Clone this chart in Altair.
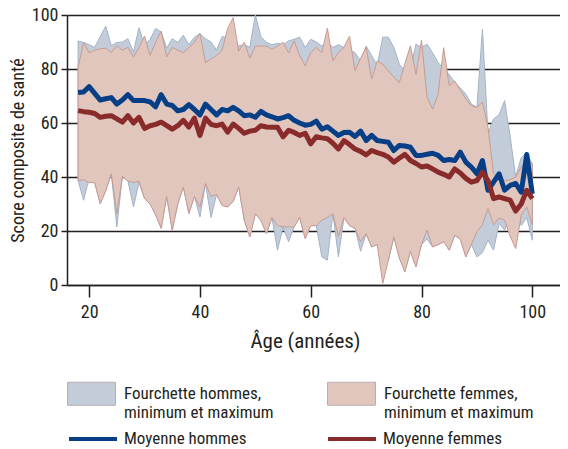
import altair as alt
import pandas as pd

FONT = "Roboto Condensed, Noto Sans Condensed, sans-serif"
DARK = "#231f20"

ages = list(range(18, 101))

men_mean = [71.3, 71.5, 73.5, 71.0, 68.5, 69.0, 69.4, 67.0, 68.5, 70.5,
            68.3, 68.3, 68.3, 67.8, 66.0, 70.5, 67.0, 66.5, 64.5, 65.0,
            66.8, 65.0, 63.0, 67.0, 65.0, 63.0, 65.0, 64.5, 65.8, 64.5,
            62.7, 63.0, 62.1, 64.3, 63.0, 62.3, 61.5, 62.0, 62.7, 61.0,
            60.0, 59.2, 59.5, 60.7, 57.7, 58.6, 57.0, 55.4, 56.5, 56.6,
            55.0, 57.0, 53.5, 55.4, 53.5, 53.2, 52.9, 49.8, 51.7, 51.5,
            51.0, 48.0, 48.0, 48.4, 48.8, 48.0, 46.1, 46.5, 46.1, 49.2,
            45.5, 43.7, 41.2, 46.1, 35.1, 38.1, 41.2, 35.1, 36.9, 37.6,
            34.4, 48.3, 33.8]

women_mean = [64.6, 64.2, 64.0, 63.5, 62.1, 62.5, 62.7, 61.5, 60.3, 62.7,
              60.0, 62.1, 58.0, 59.0, 59.5, 60.3, 59.0, 57.7, 59.0, 61.0,
              58.5, 61.8, 55.4, 61.8, 59.5, 59.0, 59.6, 56.6, 59.6, 58.0,
              56.2, 57.0, 57.3, 59.0, 58.5, 58.4, 58.4, 54.9, 57.3, 56.5,
              55.4, 56.2, 52.3, 54.9, 54.5, 54.2, 52.5, 50.4, 53.5, 52.0,
              50.4, 49.5, 48.2, 49.8, 49.0, 48.4, 47.4, 45.5, 47.0, 48.4,
              46.1, 45.0, 43.7, 44.1, 43.0, 41.8, 41.0, 40.0, 43.0, 41.5,
              39.5, 38.1, 38.7, 41.8, 38.7, 32.0, 32.6, 32.0, 31.4, 27.4,
              30.0, 35.1, 32.0]

men_max = [90.4, 89.8, 89.0, 88.0, 92.0, 95.9, 88.6, 89.8, 90.0, 91.2,
           86.3, 95.3, 88.6, 91.0, 95.0, 93.7, 87.7, 91.2, 89.8, 92.5,
           89.0, 91.8, 93.1, 91.2, 90.0, 87.0, 92.0, 91.5, 90.0, 88.5,
           89.0, 88.0, 100.0, 92.0, 89.9, 89.0, 89.5, 89.0, 90.4, 91.0,
           91.8, 88.0, 91.0, 90.0, 88.5, 90.0, 88.0, 89.0, 88.0, 87.0,
           86.0, 83.0, 88.5, 85.0, 81.2, 91.8, 91.8, 88.0, 81.8, 79.0,
           80.0, 89.2, 88.0, 89.2, 86.0, 82.4, 80.0, 78.0, 75.0, 73.0,
           70.7, 67.0, 65.8, 94.7, 56.0, 61.5, 63.0, 68.3, 55.0, 40.0,
           47.2, 49.0, 44.9]

men_min = [38.7, 31.4, 39.5, 37.9, 30.1, 35.0, 41.2, 21.5, 40.3, 38.5,
           28.9, 38.0, 32.0, 30.0, 26.0, 21.0, 32.8, 20.3, 30.0, 36.3,
           26.5, 32.8, 25.2, 37.6, 25.0, 33.5, 29.5, 28.9, 31.0, 36.3,
           24.0, 17.8, 26.4, 24.0, 19.0, 25.0, 12.9, 21.5, 16.0, 21.5,
           25.0, 17.2, 22.0, 22.0, 10.4, 9.2, 26.4, 10.4, 25.0, 22.0,
           21.0, 12.5, 19.0, 14.1, 15.0, 10.0, 9.0, 17.8, 10.0, 4.9,
           12.5, 6.7, 15.0, 17.0, 14.1, 15.0, 16.0, 12.9, 18.4, 17.0,
           10.4, 15.0, 10.4, 12.0, 16.6, 12.9, 22.8, 20.3, 25.0, 28.0,
           22.0, 25.0, 16.6]

women_max = [80.6, 89.8, 86.0, 87.0, 87.5, 87.7, 86.1, 88.6, 87.0, 88.0,
             84.5, 88.0, 92.2, 85.0, 90.0, 94.0, 84.5, 88.0, 87.0, 86.0,
             88.0, 89.8, 93.1, 82.4, 83.7, 85.0, 86.9, 95.0, 99.0, 86.6,
             89.9, 84.0, 88.5, 88.5, 88.5, 87.3, 88.5, 89.9, 86.0, 90.4,
             85.0, 81.2, 86.0, 88.0, 86.0, 95.1, 83.0, 86.0, 88.0, 92.2,
             79.3, 84.0, 88.0, 76.3, 83.0, 81.8, 79.3, 77.0, 75.0, 82.0,
             88.6, 78.0, 90.7, 69.5, 65.2, 70.7, 87.9, 73.8, 75.6, 72.0,
             68.9, 66.4, 65.8, 67.7, 58.4, 41.2, 40.0, 38.7, 39.0, 40.0,
             43.7, 46.0, 44.9]

women_min = [38.7, 39.0, 37.9, 37.9, 30.1, 35.0, 41.2, 26.4, 40.3, 38.5,
             38.0, 38.5, 32.0, 30.0, 26.0, 21.0, 32.8, 20.3, 30.0, 36.3,
             26.5, 32.8, 28.9, 37.6, 32.8, 33.5, 29.5, 28.9, 31.0, 36.3,
             24.0, 17.8, 26.4, 24.0, 19.0, 25.0, 22.0, 21.5, 21.5, 21.5,
             25.0, 17.2, 22.0, 22.0, 24.0, 25.0, 26.4, 18.0, 25.0, 22.0,
             21.0, 16.0, 19.0, 14.1, 15.0, 0.6, 9.0, 17.8, 10.0, 4.9,
             12.5, 6.7, 15.0, 20.3, 14.1, 15.0, 16.0, 12.9, 18.4, 17.0,
             10.4, 15.0, 19.7, 22.3, 28.3, 22.3, 24.8, 24.0, 18.0, 13.5,
             25.8, 28.9, 22.3]

band_names = ["Fourchette hommes,|minimum et maximum",
              "Fourchette femmes,|minimum et maximum"]
band_fills = ["#c3cdd9", "#e1c6be"]
band_edges = ["#a2b3c8", "#c99a90"]
line_names = ["Moyenne hommes", "Moyenne femmes"]
line_colors = ["#073f86", "#892a2b"]

x_ticks = [20, 40, 60, 80, 100]
y_ticks = [0, 20, 40, 60, 80, 100]

band_df = pd.DataFrame({
    "age": ages + ages,
    "lo": men_min + women_min,
    "hi": men_max + women_max,
    "serie": [band_names[0]] * len(ages) + [band_names[1]] * len(ages),
})
mean_df = pd.DataFrame({
    "age": ages + ages,
    "val": men_mean + women_mean,
    "moy": [line_names[0]] * len(ages) + [line_names[1]] * len(ages),
})

x_enc = alt.X("age:Q",
              scale=alt.Scale(domain=[16, 105], nice=False, zero=False),
              axis=alt.Axis(values=x_ticks, title="Âge (années)", grid=False,
                            tickSize=12, tickWidth=1.5, tickColor=DARK,
                            domainColor=DARK, domainWidth=1.5,
                            labelFont=FONT, labelFontSize=18, labelColor=DARK,
                            labelFontWeight="normal",
                            labelPadding=6, titleFont=FONT, titleFontSize=21,
                            titleFontWeight="normal", titleColor=DARK,
                            titlePadding=9, titleX=238))
y_axis = alt.Axis(values=y_ticks, title="Score composite de santé", grid=True,
                  gridColor=DARK, gridWidth=1.5, tickSize=6, tickWidth=1.5,
                  tickColor=DARK, domainColor=DARK, domainWidth=1.5,
                  labelFont=FONT, labelFontSize=18, labelColor=DARK,
                  labelFontWeight="normal",
                  labelPadding=3, titleFont=FONT, titleFontSize=18,
                  titleFontWeight="normal", titleColor=DARK, titlePadding=4)

band_legend = alt.Legend(title=None, orient="none", legendX=0, legendY=354,
                         direction="horizontal", columns=2, columnPadding=51,
                         symbolType="M-1,-0.479H1V0.479H-1Z", symbolSize=2304,
                         symbolStrokeWidth=1, symbolStrokeColor="#b9adb4",
                         labelFont=FONT, labelFontSize=17, labelFontWeight="normal",
                         labelColor=DARK, labelOffset=8, labelBaseline="middle",
                         labelExpr="split(datum.label, '|')", labelLimit=400,
                         padding=0)
line_legend = alt.Legend(title=None, orient="none", legendX=0, legendY=398,
                         direction="horizontal", columns=2, columnPadding=73,
                         symbolType="stroke", symbolSize=2304,
                         symbolStrokeWidth=4, labelFont=FONT, labelFontSize=17,
                         labelFontWeight="normal",
                         labelColor=DARK, labelOffset=5, labelBaseline="middle",
                         labelLimit=400, padding=0)

fill_enc = alt.Fill("serie:N", scale=alt.Scale(domain=band_names, range=band_fills),
                    legend=band_legend)
edge_enc = alt.Stroke("serie:N", scale=alt.Scale(domain=band_names, range=band_edges),
                      legend=None)

base_band = alt.Chart(band_df).mark_area(strokeWidth=1, opacity=1, fillOpacity=1)
area_men = base_band.transform_filter(alt.datum.serie == band_names[0]).encode(
    x=x_enc, y=alt.Y("lo:Q", scale=alt.Scale(domain=[0, 100]), axis=y_axis),
    y2="hi:Q", fill=fill_enc, stroke=edge_enc)
area_women = base_band.transform_filter(alt.datum.serie == band_names[1]).encode(
    x=x_enc, y=alt.Y("lo:Q", scale=alt.Scale(domain=[0, 100]), axis=y_axis),
    y2="hi:Q", fill=fill_enc, stroke=edge_enc)
bands = alt.layer(area_men, area_women)

line_enc = alt.Stroke("moy:N", scale=alt.Scale(domain=line_names, range=line_colors),
                      legend=line_legend)
base_line = alt.Chart(mean_df).mark_line(strokeWidth=5, strokeJoin="round")
line_men = base_line.transform_filter(alt.datum.moy == line_names[0]).encode(
    x=x_enc, y=alt.Y("val:Q", scale=alt.Scale(domain=[0, 100])), stroke=line_enc)
line_women = base_line.transform_filter(alt.datum.moy == line_names[1]).encode(
    x=x_enc, y=alt.Y("val:Q", scale=alt.Scale(domain=[0, 100])), stroke=line_enc)
lines = alt.layer(line_men, line_women)

chart = alt.layer(bands, lines).resolve_scale(stroke="independent").resolve_legend(
    stroke="independent"
).properties(
    width=493, height=270,
    padding={"left": 59, "top": 7, "right": 0, "bottom": 164},
    autosize=alt.AutoSizeParams(type="none"),
).configure_view(stroke=None).configure(background="white")

chart.save("out.html", embed_options={"renderer": "svg", "actions": False})
